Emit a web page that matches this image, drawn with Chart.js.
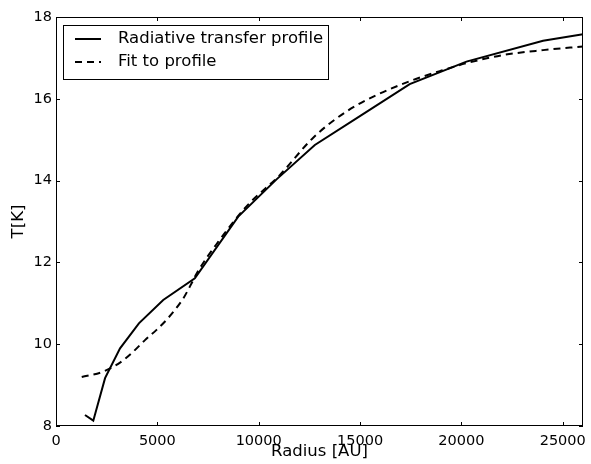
<!DOCTYPE html>
<html>
<head>
<meta charset="utf-8">
<script src="https://cdn.jsdelivr.net/npm/chart.js@4/dist/chart.umd.min.js"></script>
<style>
    html, body { margin: 0; padding: 0; background: #fff; }
    #wrap { width: 591px; height: 464px; }
</style>
</head>
<body>
<div id="wrap"><canvas id="chart" width="591" height="464"></canvas></div>
<script>
// radiative transfer profile
const rtRadius = [1430, 1840, 2420, 3160, 4090, 5290, 6850, 8990, 10880, 12770, 15070, 17450, 20250, 24030, 26000];
const rtTemp = [8.27, 8.13, 9.17, 9.9, 10.51, 11.08, 11.61, 13.12, 14.03, 14.87, 15.6, 16.36, 16.91, 17.42, 17.58];

// fit to profile
const fitRadius = [1270, 2330, 3160, 3730, 4390, 4960, 5460, 5870, 6280, 6690, 6940, 8000, 9400, 11050, 12690, 14330, 15810, 17620, 19020, 20250, 22060, 24030, 26000];
const fitTemp = [9.2, 9.33, 9.55, 9.78, 10.1, 10.35, 10.6, 10.84, 11.12, 11.49, 11.73, 12.5, 13.37, 14.14, 15.05, 15.69, 16.09, 16.46, 16.69, 16.87, 17.07, 17.19, 17.28];

const xTicks = [0, 5000, 10000, 15000, 20000, 25000];
const yTicks = [8, 10, 12, 14, 16, 18];
const labels = ["Radiative transfer profile", "Fit to profile"];

const FONT = "DejaVu Sans";

function toPoints(xs, ys) {
    return xs.map((x, i) => ({ x: x, y: ys[i] }));
}

// frame, inward ticks and legend like matplotlib
const framePlugin = {
    id: "frame",
    afterDraw(chart) {
        const ctx = chart.ctx;
        const a = chart.chartArea;
        const xs = chart.scales.x;
        const ys = chart.scales.y;
        ctx.save();
        ctx.strokeStyle = "#000";
        ctx.lineWidth = 1;
        ctx.strokeRect(a.left + 0.5, a.top + 0.5, a.right - a.left - 1, a.bottom - a.top - 1);

        ctx.beginPath();
        xTicks.forEach(v => {
            const px = Math.round(xs.getPixelForValue(v)) + 0.5;
            ctx.moveTo(px, a.bottom); ctx.lineTo(px, a.bottom - 4);
            ctx.moveTo(px, a.top); ctx.lineTo(px, a.top + 4);
        });
        yTicks.forEach(v => {
            const py = Math.round(ys.getPixelForValue(v)) + 0.5;
            ctx.moveTo(a.left, py); ctx.lineTo(a.left + 4, py);
            ctx.moveTo(a.right, py); ctx.lineTo(a.right - 4, py);
        });
        ctx.stroke();

        // legend box
        const bx = 63.5, by = 25.5, bw = 265, bh = 54;
        ctx.fillStyle = "#fff";
        ctx.fillRect(bx, by, bw, bh);
        ctx.strokeRect(bx, by, bw, bh);
        ctx.font = "16.5px '" + FONT + "'";
        ctx.fillStyle = "#000";
        ctx.textBaseline = "middle";
        const rows = [39, 62];
        labels.forEach((t, i) => {
            ctx.beginPath();
            ctx.lineWidth = 2;
            ctx.setLineDash(i === 0 ? [] : [7, 5]);
            ctx.moveTo(75, rows[i]);
            ctx.lineTo(101, rows[i]);
            ctx.stroke();
            ctx.setLineDash([]);
            ctx.fillText(t, 118, rows[i]);
        });
        ctx.restore();
    }
};

new Chart(document.getElementById("chart").getContext("2d"), {
    type: "scatter",
    data: {
        datasets: [
            {
                label: labels[0],
                data: toPoints(rtRadius, rtTemp),
                showLine: true,
                borderColor: "#000",
                borderWidth: 2,
                pointRadius: 0,
                tension: 0
            },
            {
                label: labels[1],
                data: toPoints(fitRadius, fitTemp),
                showLine: true,
                borderColor: "#000",
                borderWidth: 2,
                borderDash: [7, 5],
                pointRadius: 0,
                cubicInterpolationMode: "monotone"
            }
        ]
    },
    options: {
        responsive: false,
        animation: false,
        layout: { padding: { left: 0, right: 8, top: 17, bottom: 0 } },
        plugins: {
            legend: { display: false },
            tooltip: { enabled: false }
        },
        scales: {
            x: {
                type: "linear",
                min: 0,
                max: 26000,
                grid: { display: false, drawTicks: false },
                border: { display: false },
                afterBuildTicks: s => { s.ticks = xTicks.map(v => ({ value: v })); },
                afterFit: s => { s.height = 38; s.paddingLeft = 0; s.paddingRight = 0; },
                ticks: {
                    color: "#000",
                    padding: 7,
                    maxRotation: 0,
                    font: { family: FONT, size: 14.5 },
                    callback: v => String(v)
                },
                title: {
                    display: true,
                    text: "Radius [AU]",
                    color: "#000",
                    padding: { top: 0, bottom: 2 },
                    font: { family: FONT, size: 16.5 }
                }
            },
            y: {
                type: "linear",
                min: 8,
                max: 18,
                grid: { display: false, drawTicks: false },
                border: { display: false },
                afterBuildTicks: s => { s.ticks = yTicks.map(v => ({ value: v })); },
                afterFit: s => { s.width = 56; s.paddingTop = 0; s.paddingBottom = 0; },
                ticks: {
                    color: "#000",
                    padding: 4,
                    font: { family: FONT, size: 14.5 },
                    callback: v => String(v)
                },
                title: {
                    display: true,
                    text: "T[K]",
                    color: "#000",
                    padding: { top: 9, bottom: 0 },
                    font: { family: FONT, size: 16.5 }
                }
            }
        }
    },
    plugins: [framePlugin]
});
</script>
</body>
</html>
